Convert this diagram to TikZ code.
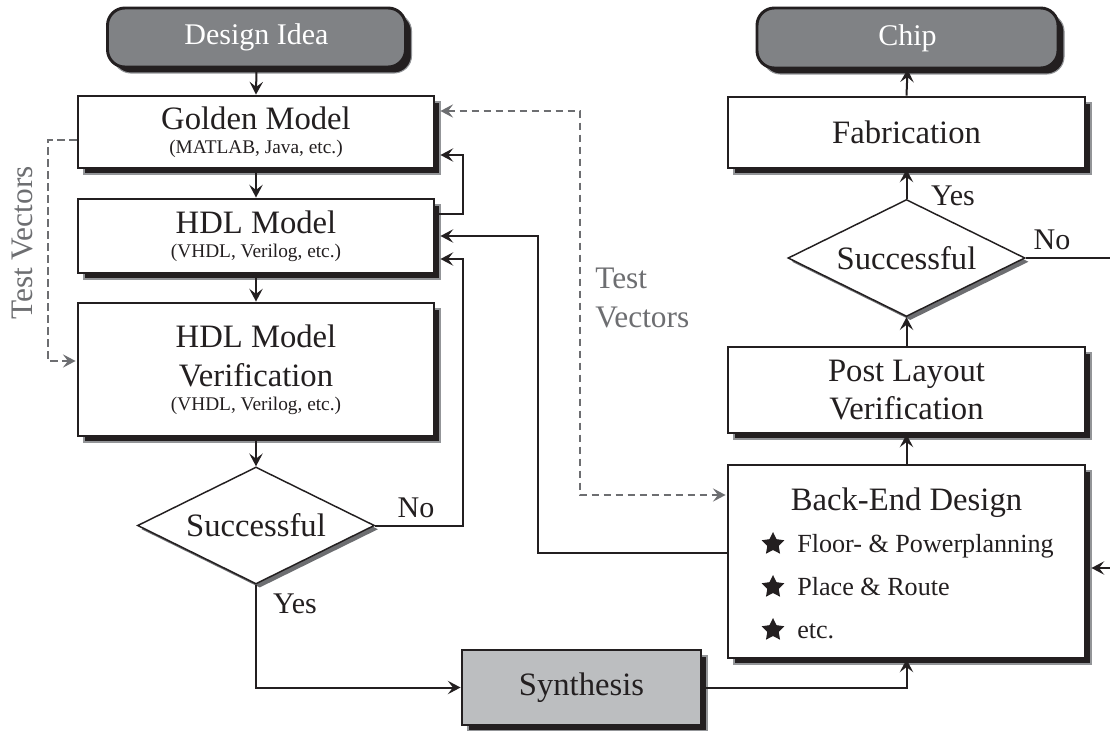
\documentclass[tikz,border=0pt]{standalone}
\usepackage{fontspec}
\setmainfont{Liberation Serif}
\usetikzlibrary{shapes.geometric,shadows,calc,arrows.meta}

\definecolor{ink}{HTML}{231F20}
\definecolor{termfill}{HTML}{808285}
\definecolor{synfill}{HTML}{BCBEC0}
\definecolor{tvgray}{HTML}{6D6E71}
\definecolor{shadowedge}{HTML}{939598}

\newcommand\bigtxt{\fontsize{24.5}{29}\selectfont}
\newcommand\subtxt{\fontsize{14.5}{18}\selectfont}
\newcommand\itemtxt{\fontsize{19.6}{23}\selectfont}
\newcommand\termtxt{\fontsize{22.5}{27}\selectfont}
\newcommand\tvtxt{\fontsize{23.5}{29}\selectfont}

\tikzset{
  boxshadow/.style={general shadow={shadow xshift=4.5pt, shadow yshift=-4.5pt,
      fill=ink, draw=shadowedge, line width=0.8pt}},
  flowbox/.style={rectangle, draw=ink, line width=2.2pt, fill=white, text=ink,
      align=center, inner sep=0pt, font=\bigtxt, boxshadow},
  leftbox/.style={flowbox, minimum width=267pt},
  rightbox/.style={flowbox, minimum width=267.75pt},
  terminal/.style={rectangle, rounded corners=13pt, draw=ink, line width=2.2pt,
      fill=termfill, text=white, font=\termtxt, inner sep=0pt, boxshadow},
  decision/.style={diamond, aspect=2.03, draw=ink, line width=1.1pt, fill=white,
      text=ink, inner sep=0pt, minimum width=177.75pt, minimum height=87.75pt,
      font=\bigtxt,
      general shadow={shadow xshift=2.8pt, shadow yshift=-2.8pt, fill=tvgray, draw=none}},
  conn/.style={draw=ink, line width=1.5pt, -{Stealth[length=9.5pt, width=10pt, inset=3.8pt]}},
  wire/.style={draw=ink, line width=1.5pt},
  tvline/.style={draw=tvgray, line width=1.1pt, dash pattern=on 5.5pt off 3.5pt},
  tvtip/.style={tvline, -{Stealth[length=9.5pt, width=10pt, inset=3.8pt]}},
  tvtips/.style={tvline, {Stealth[length=9.5pt, width=10pt, inset=3.8pt]}-{Stealth[length=9.5pt, width=10pt, inset=3.8pt]}},
  lbl/.style={text=ink, font=\termtxt, inner sep=0pt},
  tvlbl/.style={text=tvgray, font=\tvtxt, inner sep=0pt},
  starbullet/.style={star, star points=5, star point ratio=2.0, fill=ink, draw=none,
      minimum size=18pt, inner sep=0pt},
  itemline/.style={anchor=base west, text=ink, font=\itemtxt, inner sep=0pt},
}

\begin{document}
\begin{tikzpicture}[x=0.75pt, y=-0.75pt]
  \fill[white] (0,0) rectangle (1110,731);
  \useasboundingbox (0,0) rectangle (1110,731);

  % ---- front-end column ----
  \node[terminal, minimum width=223.5pt, minimum height=44.25pt] (di) at (256.5,37.5) {Design Idea};
  \node[leftbox, minimum height=54pt] (gm) at (256,132)
    {Golden Model\\[-11pt]\subtxt (MATLAB, Java, etc.)};
  \node[leftbox, minimum height=55.5pt] (hm) at (256,236)
    {HDL Model\\[-11pt]\subtxt (VHDL, Verilog, etc.)};
  \node[leftbox, minimum height=99.75pt] (hv) at (256,369.5)
    {HDL Model\\Verification\\[-11pt]\subtxt (VHDL, Verilog, etc.)};
  \node[decision] (dl) at (256,525.5) {Successful};
  \node[flowbox, fill=synfill, minimum width=179.25pt, minimum height=56.25pt] (syn) at (581.5,687.5) {Synthesis};

  % ---- back-end column ----
  \node[terminal, minimum width=225.75pt, minimum height=45pt] (chip) at (907.5,38) {Chip};
  \node[rightbox, minimum height=53.25pt] (fab) at (906.5,132.5) {Fabrication};
  \node[decision] (dr) at (906.5,258) {Successful};
  \node[rightbox, minimum height=64.5pt] (pl) at (906.5,390) {Post Layout\\Verification};
  \node[rightbox, minimum height=144.75pt] (be) at (906.5,561.5) {};
  \node[anchor=base, text=ink, font=\bigtxt, inner sep=0pt] (betitle) at (906.5,510) {Back-End Design};
  \node[starbullet] (s1) at (773,544) {};
  \node[starbullet] (s2) at (773,587) {};
  \node[starbullet] (s3) at (773,630) {};
  \node[itemline] (i1) at (797,552) {Floor- \& Powerplanning};
  \node[itemline] (i2) at (797,595) {Place \& Route};
  \node[itemline] (i3) at (797,638) {etc.};

  % ---- main flow ----
  \draw[conn] (di.south) -- (gm.north);
  \draw[conn] (gm.south) -- (hm.north);
  \draw[conn] (hm.south) -- (hv.north);
  \draw[conn] (hv.south) -- (dl.north);
  \draw[conn] (dl.south) -- (256,687.5) -- (syn.west);
  \draw[conn] (syn.east) -- (906.5,687.5) -- (be.south);
  \draw[conn] (be.north) -- (pl.south);
  \draw[conn] (pl.north) -- (dr.south);
  \draw[conn] (dr.north) -- (fab.south);
  \draw[conn] (fab.north) -- (chip.south);

  % ---- feedback loops ----
  \draw[conn] (dl.east) -- (463,525.5) |- ($(hm.east)+(5,23)$);
  \draw[conn] ($(hm.east)+(0,-22)$) -- (463,214) |- ($(gm.east)+(5,23)$);
  \draw[conn] ($(be.west)+(0,-8.5)$) -- (538,553) |- ($(hm.east)+(5,0)$);
  \coordinate (rout) at (1110,258);
  \coordinate (rin) at (1110,568);
  \draw[wire] (dr.east) -- (rout);
  \draw[conn] (rin) -- ($(be.east)+(5,6.5)$);

  % ---- test vectors ----
  \draw[tvtip] ($(gm.west)+(0,8)$) -| (48,361) -- ($(hv.west)+(-1,-8.5)$);
  \draw[tvtips] ($(gm.east)+(5,-21)$) -| (580,495) -- ($(be.west)+(-1,-66.5)$);
  \node[tvlbl, rotate=90] (tvleft) at (22,243) {Test Vectors};
  \node[tvlbl, anchor=north west, align=left] (tvright) at (595,268) {Test\\Vectors};

  % ---- decision labels ----
  \node[lbl] (nol) at (416,508) {No};
  \node[lbl] (yesl) at (295,604) {Yes};
  \node[lbl] (yesr) at (953,196) {Yes};
  \node[lbl] (nor) at (1052,240) {No};
\end{tikzpicture}
\end{document}
